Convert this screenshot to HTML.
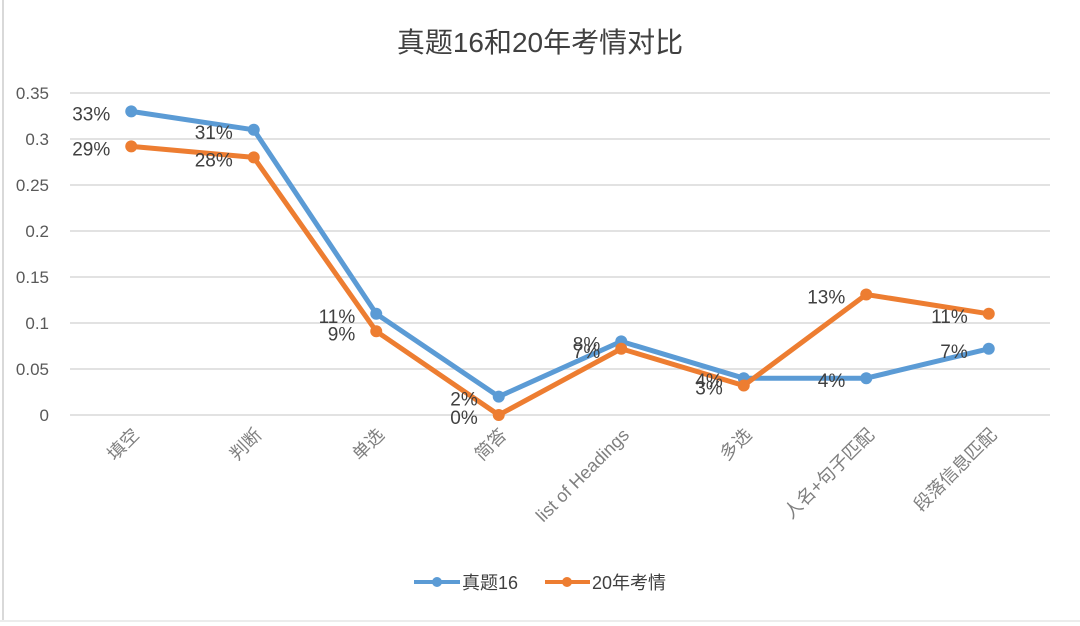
<!DOCTYPE html>
<html><head><meta charset="utf-8"><style>
body{margin:0;background:#fff;}
svg{display:block;font-family:"Liberation Sans","Noto Sans CJK SC",sans-serif;}
</style></head><body>
<svg id="chart" width="1080" height="626">
<rect x="0" y="0" width="1080" height="626" fill="#fff"/>
<line x1="3" y1="0" x2="3" y2="620" stroke="#d9d9d9" stroke-width="2"/>
<line x1="0" y1="621" x2="1080" y2="621" stroke="#d9d9d9" stroke-width="1"/>
<text x="540" y="52" text-anchor="middle" font-size="28" fill="#404040">真题16和20年考情对比</text>
<g id="grid"></g><g id="yt"></g><g id="xt"></g><g id="series"></g><g id="labels"></g>
<g>
<g>
<line x1="414" y1="582" x2="460" y2="582" stroke="#5b9bd5" stroke-width="4"/><circle cx="437" cy="582" r="5" fill="#5b9bd5"/>
<text x="462" y="589" font-size="18" fill="#404040">真题16</text></g>
<g>
<line x1="545" y1="582" x2="590" y2="582" stroke="#ed7d31" stroke-width="4"/><circle cx="567" cy="582" r="5" fill="#ed7d31"/>
<text x="592" y="589" font-size="18" fill="#404040">20年考情</text></g>
</g>
</svg>
<script>
const categories=["填空","判断","单选","简答","list of Headings","多选","人名+句子匹配","段落信息匹配"];
const seriesA=[0.33,0.31,0.11,0.02,0.08,0.04,0.04,0.072];
const seriesB=[0.292,0.28,0.091,0.0,0.072,0.032,0.131,0.11];
const labelsA=["33%","31%","11%","2%","8%","4%","4%","7%"];
const labelsB=["29%","28%","9%","0%","7%","3%","13%","11%"];
const yTicks=[0,0.05,0.1,0.15,0.2,0.25,0.3,0.35];
const yTickLabels=["0","0.05","0.1","0.15","0.2","0.25","0.3","0.35"];
const NS="http://www.w3.org/2000/svg";
const x0=70,x1=1050,yb=415,yt=93;
const xs=i=>x0+(i+0.5)*(x1-x0)/categories.length;
const ys=v=>yb-(v/0.35)*(yb-yt);
function mk(t,a,p){const e=document.createElementNS(NS,t);for(const k in a)e.setAttribute(k,a[k]);p.appendChild(e);return e;}
const g=document.getElementById('grid'),gy=document.getElementById('yt'),gx=document.getElementById('xt'),gs=document.getElementById('series'),gl=document.getElementById('labels');
yTicks.forEach((v,i)=>{
 const l=mk('line',{x1:x0,x2:x1,y1:ys(v),y2:ys(v),stroke:'#d9d9d9','stroke-width':1.5},g);
 
 
 const t=mk('text',{x:49,y:ys(v)+6,'text-anchor':'end','font-size':17,fill:'#595959'},gy);
 t.textContent=yTickLabels[i];
 
 
});
categories.forEach((c,i)=>{
 const x=xs(i)+9,y=436;
 const t=mk('text',{x:x,y:y,'text-anchor':'end','font-size':18,fill:'#7f7f7f',transform:`rotate(-45 ${x} ${y})`},gx);
 t.textContent=c;
 
 
});
function draw(vals,col,name){
 const p=mk('polyline',{points:vals.map((v,i)=>xs(i)+','+ys(v)).join(' '),fill:'none',stroke:col,'stroke-width':5,'stroke-linejoin':'round'},gs);
 
 
 vals.forEach((v,i)=>{const c=mk('circle',{cx:xs(i),cy:ys(v),r:6,fill:col},gs);
 
 });
}
draw(seriesA,'#5b9bd5','zhenti16');
draw(seriesB,'#ed7d31','20nian');
function lab(vals,txt,dy){
 vals.forEach((v,i)=>{const t=mk('text',{x:xs(i)-21,y:ys(v)+dy,'text-anchor':'end','font-size':19,fill:'#404040'},gl);
 t.textContent=txt[i];
 
 });
}
lab(seriesA,labelsA,9);
lab(seriesB,labelsB,9);
</script>
</body></html>
